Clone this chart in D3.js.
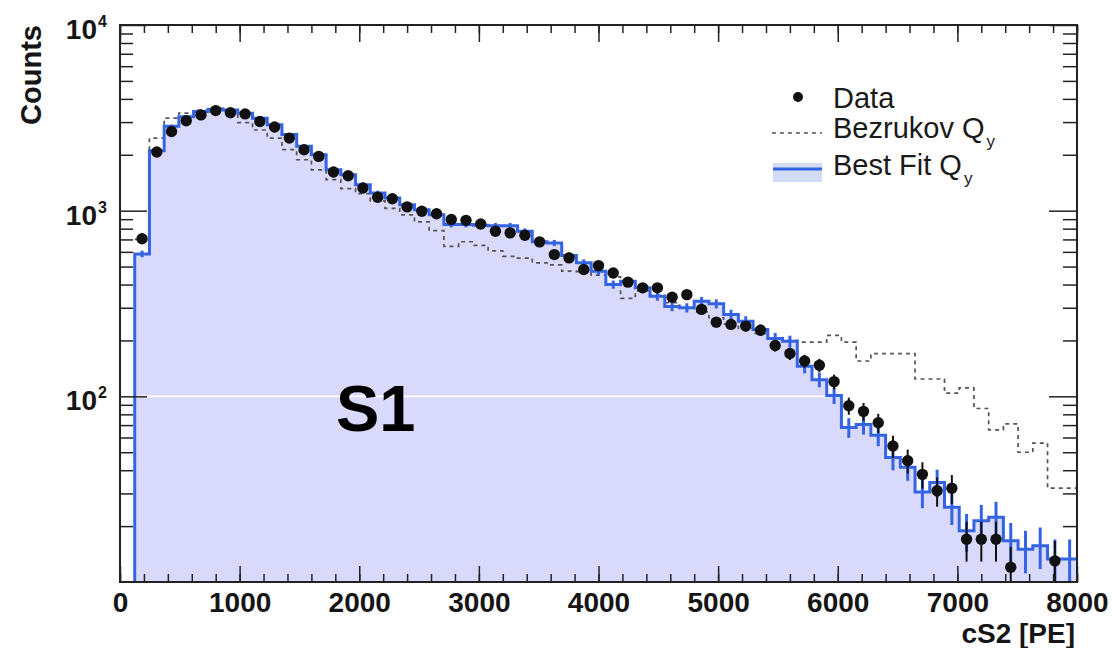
<!DOCTYPE html>
<html>
<head>
<meta charset="utf-8">
<script src="https://cdn.jsdelivr.net/npm/d3@7"></script>
<style>
  body { margin: 0; background: #fff; }
  svg { display: block; }
</style>
</head>
<body>
<svg></svg>
<script>
let width = 1113, height = 648;

// 65 bins of equal width between 0 and 8000 PE, bin 0 is empty
const nBins = 65;
const xRange = [0, 8000];

// data counts per bin
const dataCounts = [null, 706, 2070, 2670, 3050, 3280, 3460, 3370, 3320, 3020,
  2820, 2460, 2130, 1960, 1615, 1543, 1325, 1180, 1160, 1048,
  992, 963, 896, 887, 848, 774, 759, 737, 679, 580,
  557, 482, 506, 462, 412, 384, 384, 342, 353, 294,
  251, 244, 239, 227, 188, 170, 155, 147, 120, 89,
  83, 72, 54, 45, 38, 31, 32, 17, 17, 17,
  12, null, null, 13, null];

// best fit Qy histogram
const bestFit = [null, 585, 2100, 2850, 3210, 3420, 3520, 3490, 3350, 3150,
  2900, 2570, 2220, 2000, 1660, 1563, 1380, 1245, 1170, 1077,
  1012, 950, 842, 842, 835, 830, 830, 774, 680, 670,
  573, 524, 472, 400, 417, 384, 346, 305, 300, 325,
  315, 276, 254, 229, 205, 198, 145, 123, 101, 68,
  70.6, 61.7, 46.8, 41.5, 30.5, 34.4, 25.3, 18.9, 21.4, 22.3,
  16.7, 15.0, 15.7, 13.3, 13.3];

// Bezrukov Qy histogram
const bezrukov = [null, 700, 2460, 3150, 3350, 3480, 3560, 3420, 2980, 2720,
  2460, 2130, 1880, 1660, 1470, 1315, 1235, 1130, 1030, 950,
  870, 780, 643, 680, 650, 608, 568, 555, 524, 510,
  472, 470, 450, 440, 337, 370, 350, 320, 300, 285,
  265, 245, 232, 218, 205, 200, 196, 196, 213, 196,
  155, 170, 170, 170, 124, 124, 104, 111, 86, 66,
  71, 50, 56, 32, 32];

const xTickValues = [0, 1000, 2000, 3000, 4000, 5000, 6000, 7000, 8000];
const yTickValues = [100, 1000, 10000];
const yTickExp = ["2", "3", "4"];

const pLeft = 120, pRight = 1077, pTop = 25, pBottom = 582;

let svg = d3.select("svg")
    .attr("width", width)
    .attr("height", height)
    .style("font-family", "'Liberation Sans', Arial, Helvetica, sans-serif");

let x = d3.scaleLinear().domain(xRange).range([pLeft, pRight]);
let y = d3.scaleLog().domain([10, 10000]).range([pBottom, pTop]);

const binW = (xRange[1] - xRange[0]) / nBins;
const edge = k => xRange[0] + k * binW;

svg.append("defs").append("clipPath").attr("id", "plot")
  .append("rect").attr("x", pLeft).attr("y", pTop)
  .attr("width", pRight - pLeft).attr("height", pBottom - pTop);

let plot = svg.append("g").attr("clip-path", "url(#plot)");

// turn a histogram array into step points
function steps(arr) {
  let pts = [];
  arr.forEach((v, k) => { if (v != null) pts.push([edge(k), v]); });
  let last = pts[pts.length - 1];
  pts.push([xRange[1], last[1]]);
  return pts;
}

let fitPts = steps(bestFit);

// filled best fit
plot.append("path")
  .datum(fitPts)
  .attr("fill", "#d9d9fb")
  .attr("d", d3.area().curve(d3.curveStepAfter)
    .x(d => x(d[0])).y0(y(10)).y1(d => y(d[1])));

// white line at 10^2 seen through the fill
plot.append("line")
  .attr("x1", pLeft).attr("x2", pRight)
  .attr("y1", y(100)).attr("y2", y(100))
  .attr("stroke", "#fff").attr("stroke-width", 1.6);

// Bezrukov dashed
plot.append("path")
  .datum(steps(bezrukov))
  .attr("fill", "none")
  .attr("stroke", "#555")
  .attr("stroke-width", 1.7)
  .attr("stroke-dasharray", "4 4")
  .attr("d", d3.line().curve(d3.curveStepAfter).x(d => x(d[0])).y(d => y(d[1])));

// best fit outline, starting from the bottom of the frame
plot.append("path")
  .datum([[fitPts[0][0], 10]].concat(fitPts))
  .attr("fill", "none")
  .attr("stroke", "#3464e4")
  .attr("stroke-width", 3)
  .attr("d", d3.line().curve(d3.curveStepAfter).x(d => x(d[0])).y(d => y(Math.max(d[1], 1))));

// best fit error bars
plot.append("g").selectAll("line")
  .data(bestFit.map((v, k) => ({ v, k })).filter(d => d.v != null))
  .enter().append("line")
  .attr("x1", d => x(edge(d.k) + binW / 2))
  .attr("x2", d => x(edge(d.k) + binW / 2))
  .attr("y1", d => y(d.v + Math.sqrt(d.v)))
  .attr("y2", d => y(Math.max(d.v - Math.sqrt(d.v), 1)))
  .attr("stroke", "#3464e4")
  .attr("stroke-width", 3);

let pts = dataCounts.map((v, k) => ({ v, k })).filter(d => d.v != null);

// data error bars
plot.append("g").selectAll("line")
  .data(pts)
  .enter().append("line")
  .attr("x1", d => x(edge(d.k) + binW / 2))
  .attr("x2", d => x(edge(d.k) + binW / 2))
  .attr("y1", d => y(d.v + Math.sqrt(d.v)))
  .attr("y2", d => y(Math.max(d.v - Math.sqrt(d.v), 1)))
  .attr("stroke", "#111")
  .attr("stroke-width", 2);

// data points
plot.append("g").selectAll("circle")
  .data(pts)
  .enter().append("circle")
  .attr("cx", d => x(edge(d.k) + binW / 2))
  .attr("cy", d => y(d.v))
  .attr("r", 5.7)
  .attr("fill", "#111");

// axes
const xMinor = d3.range(0, 8001, 200);
const yMinor = [];
[10, 100, 1000].forEach(dec => { for (let m = 2; m <= 9; m++) yMinor.push(m * dec); });

function styleAxis(g) {
  g.select(".domain").remove();
  g.selectAll(".tick line").attr("stroke", "#222").attr("stroke-width", 1.5);
}

svg.append("g").attr("transform", `translate(0,${pBottom})`)
  .call(d3.axisBottom(x).tickValues(xMinor).tickSize(-8).tickFormat(""))
  .call(styleAxis);
let xAx = svg.append("g").attr("transform", `translate(0,${pBottom})`)
  .call(d3.axisBottom(x).tickValues(xTickValues).tickSize(-16).tickPadding(10).tickFormat(d3.format("d")))
  .call(styleAxis);
xAx.selectAll("text")
  .attr("font-size", 28).attr("font-weight", "bold")
  .attr("font-family", "'Liberation Sans', Arial, sans-serif")
  .attr("fill", "#151515");

svg.append("g").attr("transform", `translate(0,${pTop})`)
  .call(d3.axisTop(x).tickValues(xMinor).tickSize(-8).tickFormat(""))
  .call(styleAxis);
svg.append("g").attr("transform", `translate(0,${pTop})`)
  .call(d3.axisTop(x).tickValues(xTickValues).tickSize(-17).tickFormat(""))
  .call(styleAxis);

svg.append("g").attr("transform", `translate(${pLeft},0)`)
  .call(d3.axisLeft(y).tickValues(yMinor).tickSize(-13).tickFormat(""))
  .call(styleAxis);
svg.append("g").attr("transform", `translate(${pLeft},0)`)
  .call(d3.axisLeft(y).tickValues(yTickValues).tickSize(-27).tickFormat(""))
  .call(styleAxis);
svg.append("g").attr("transform", `translate(${pRight},0)`)
  .call(d3.axisRight(y).tickValues(yMinor).tickSize(-14).tickFormat(""))
  .call(styleAxis);
svg.append("g").attr("transform", `translate(${pRight},0)`)
  .call(d3.axisRight(y).tickValues(yTickValues).tickSize(-28).tickFormat(""))
  .call(styleAxis);

// y labels 10^n
let yl = svg.append("g").attr("fill", "#151515").attr("font-weight", "bold");
yl.selectAll("text.base")
  .data(yTickValues).enter().append("text")
  .attr("class", "base")
  .attr("x", 97).attr("y", d => y(d) + 14)
  .attr("text-anchor", "end").attr("font-size", 28)
  .text("10");
yl.selectAll("text.exp")
  .data(yTickValues).enter().append("text")
  .attr("class", "exp")
  .attr("x", 98).attr("y", d => y(d) + 2)
  .attr("font-size", 16)
  .text((d, i) => yTickExp[i]);

// frame
svg.append("rect")
  .attr("x", pLeft).attr("y", pTop)
  .attr("width", pRight - pLeft).attr("height", pBottom - pTop)
  .attr("fill", "none").attr("stroke", "#222").attr("stroke-width", 2);

// axis titles
svg.append("text")
  .attr("transform", `translate(41,${pTop}) rotate(-90)`)
  .attr("text-anchor", "end")
  .attr("font-size", 29).attr("font-weight", "bold").attr("fill", "#151515")
  .text("Counts");

svg.append("text")
  .attr("x", 1075).attr("y", 643)
  .attr("text-anchor", "end")
  .attr("font-size", 28).attr("font-weight", "bold").attr("fill", "#151515")
  .text("cS2 [PE]");

svg.append("text")
  .attr("x", 336).attr("y", 431)
  .attr("font-size", 65).attr("font-weight", "bold").attr("fill", "#000")
  .text("S1");

// legend
let lg = svg.append("g").attr("font-size", 29).attr("fill", "#1a1a1a");
lg.append("circle").attr("cx", 798).attr("cy", 97).attr("r", 5).attr("fill", "#111");
lg.append("text").attr("x", 833).attr("y", 108).text("Data");

lg.append("line").attr("x1", 772).attr("x2", 822).attr("y1", 133).attr("y2", 133)
  .attr("stroke", "#555").attr("stroke-width", 1.6).attr("stroke-dasharray", "4 4");
let t2 = lg.append("text").attr("x", 833).attr("y", 138).text("Bezrukov Q");
t2.append("tspan").attr("font-size", 17).attr("dx", 2).attr("dy", 9).text("y");

lg.append("rect").attr("x", 773).attr("y", 163).attr("width", 49).attr("height", 19)
  .attr("fill", "#d3dbf7");
lg.append("line").attr("x1", 773).attr("x2", 822).attr("y1", 169).attr("y2", 169)
  .attr("stroke", "#3464e4").attr("stroke-width", 3);
let t3 = lg.append("text").attr("x", 833).attr("y", 175).text("Best Fit Q");
t3.append("tspan").attr("font-size", 17).attr("dx", 2).attr("dy", 9).text("y");
</script>
</body>
</html>
